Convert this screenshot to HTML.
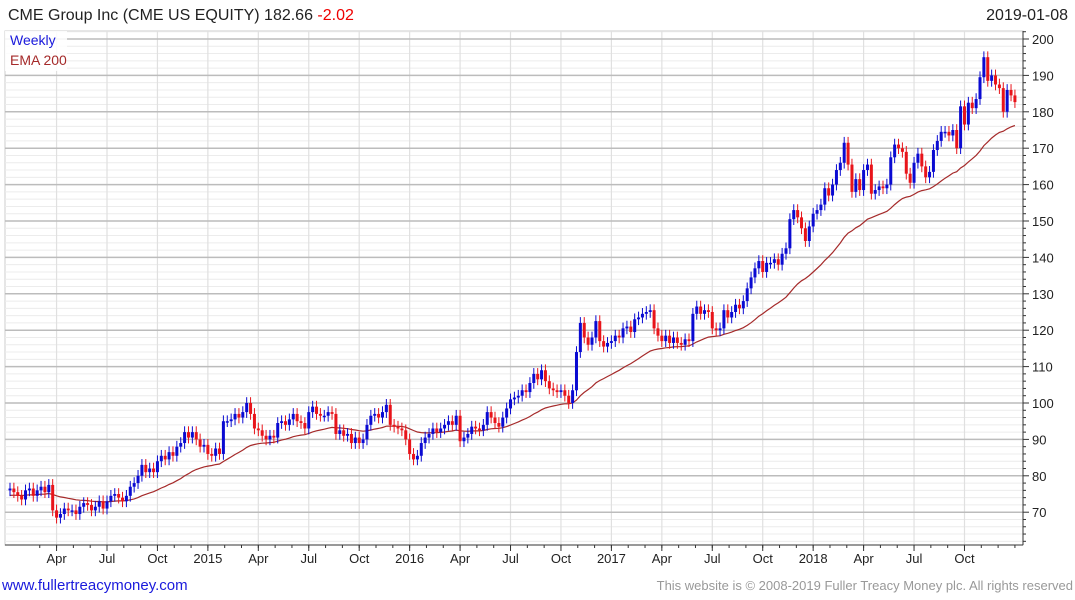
<!DOCTYPE html>
<html><head><meta charset="utf-8"><style>
body{margin:0;background:#fff;font-family:"Liberation Sans",sans-serif;}
#wrap{position:relative;width:1075px;height:600px;overflow:hidden;}
svg text{font-family:"Liberation Sans",sans-serif;}
</style></head><body>
<div id="wrap">
<svg id="chart" width="1075" height="600">
  <text x="8" y="20" font-size="16" fill="#222">CME Group Inc (CME US EQUITY) 182.66 <tspan fill="#e00">-2.02</tspan></text>
  <text x="1068" y="20" font-size="16" fill="#222" text-anchor="end">2019-01-08</text>
  <g id="grid"></g>
  <g id="axes"></g>
  <g id="ema"></g>
  <g id="candles"></g>
  <rect x="5" y="31" width="62" height="40" fill="#fff" opacity="0.85"/>
  <text x="10" y="45" font-size="14" fill="#1a1adc">Weekly</text>
  <text x="10" y="65" font-size="14" fill="#a52a2a">EMA 200</text>
  <text x="2" y="590" font-size="15" fill="#1a1adc">www.fullertreacymoney.com</text>
  <text x="1073" y="590" font-size="13" fill="#999" text-anchor="end">This website is © 2008-2019 Fuller Treacy Money plc. All rights reserved</text>
</svg>
</div>
<script>
const closes=[76.5,75.5,74.5,73.5,76,76.5,74.5,76,77,75.5,
77.5,70.5,68.5,69.5,71,70.5,70.5,69.5,71.5,72.5,
72,70.5,71.5,73,71,73,74.5,75,74,73,
74.5,77,78,80,83,81,82,81,84,85.5,
84.5,86.5,85.5,88,89,92,90.5,92,90,88,
88.5,86,85.5,87.5,86,95,95,95.5,97,96,
97.5,100,97,93,92.5,91,90,91,90.5,94.5,
95,94,95.5,97,95,94.5,93,97.5,99,97,
96.5,96.5,97.5,97,91.5,92.5,91,91.5,89,90.5,
89,90,94,96.5,97,96,97.5,99.5,94,93.5,
93,92.5,90,86,84.5,85.5,89,90.5,91.5,93,
92,93,94,95,94,96.5,89.5,90.5,91.5,93.5,
93,92.5,94,97.5,96,94.5,93.5,96,98.5,101,
101.5,102,103.5,103,105.5,108,106.5,109,106,104,
103.5,103,103.5,102,100,103.5,114,122,118,116,
118,122.5,117,115.5,116.5,117,118.5,118,120.5,121,
119.5,123,123.5,124.5,125,125.5,120.5,118.5,117,118.5,
116.5,118,116.5,116,117.5,117,124.5,126.5,124.5,125.5,
125,120.5,120,120.5,125.5,123.5,125,127,126,128,
131.5,134.5,137,139,136,138.5,138.5,139.5,138,141,
142.5,150.5,153,151,148,144.5,148.5,152,153,154.5,
159,157,160,164,166,171.5,165.5,158,161.5,158.5,
164,165.5,157.5,158.5,159.5,159,160,167.5,171,170,
169,163,160.5,166,168.5,165,162,163.5,169.5,172,
174.5,174.5,173.5,175,170,181.5,176.5,182.5,181,183.5,
189.5,195,188.5,190,187.5,186.5,180,186,184.5,182.66];
const firstOpen=76;
const emaSeed=74.5;
const emaPeriod=34;
const yTicks=[70,80,90,100,110,120,130,140,150,160,170,180,190,200];
const xTickLabels=["Apr","Jul","Oct","2015","Apr","Jul","Oct","2016","Apr","Jul","Oct","2017","Apr","Jul","Oct","2018","Apr","Jul","Oct"];
const xTickWeeks=[12,25,38,51,64,77,90,103,116,129,142,155,168,181,194,207,220,233,246];

const NS="http://www.w3.org/2000/svg";
const L=5,R=1023,T=31,B=545;
function X(i){return 10+i*3.88;}
function Y(p){return 39+(200-p)*3.64;}
function mk(tag,attrs,parent){const e=document.createElementNS(NS,tag);for(const k in attrs)e.setAttribute(k,attrs[k]);parent.appendChild(e);return e;}
const grid=document.getElementById('grid'),axes=document.getElementById('axes');
mk('rect',{x:L,y:T,width:R-L,height:B-T,fill:'#fff',stroke:'#ccc'},grid);
for(let p=62;p<=202;p+=2){
  if(p%10===0)continue;
  const ln=mk('line',{x1:L,x2:R,y1:Y(p),y2:Y(p),stroke:'#ececec','stroke-width':1},grid);
  
  
}
xTickWeeks.forEach((w,k)=>{
  const ln=mk('line',{x1:X(w),x2:X(w),y1:T,y2:B,stroke:'#e0e0e0','stroke-width':1.2},grid);
  
  
  const t=mk('text',{x:X(w),y:563,'font-size':13,fill:'#222','text-anchor':'middle'},axes);
  t.textContent=xTickLabels[k];
  
  
  mk('line',{x1:X(w),x2:X(w),y1:B,y2:B+6,stroke:'#333'},axes);
});
for(let m=-1;m<60;m++){const xx=X(12+m*13/3);if(xx>L&&xx<R)mk('line',{x1:xx,x2:xx,y1:B,y2:B+3,stroke:'#333'},axes);}
yTicks.forEach(p=>{
  const ln=mk('line',{x1:L,x2:R,y1:Y(p),y2:Y(p),stroke:'#bcbcbc','stroke-width':1.5},grid);
  
  
  const t=mk('text',{x:1032,y:Y(p)+5,'font-size':13,fill:'#222'},axes);
  t.textContent=p;
  
  
  mk('line',{x1:R,x2:R+6,y1:Y(p),y2:Y(p),stroke:'#333'},axes);
});
for(let p=62;p<=202;p+=2){if(p%10)mk('line',{x1:R,x2:R+3,y1:Y(p),y2:Y(p),stroke:'#333'},axes);}
mk('line',{x1:R,x2:R,y1:T,y2:B,stroke:'#333'},axes);
mk('line',{x1:L,x2:R,y1:B,y2:B,stroke:'#333'},axes);
// EMA
let e=emaSeed;const a=2/(emaPeriod+1);let pts=[];
closes.forEach((c,i)=>{e=e+a*(c-e);pts.push(X(i).toFixed(1)+','+Y(e).toFixed(1));});
const pl=mk('polyline',{points:pts.join(' '),fill:'none',stroke:'#a52a2a','stroke-width':1.2},document.getElementById('ema'));


// candles
const cg=document.getElementById('candles');
closes.forEach((c,i)=>{
  const o=i===0?firstOpen:closes[i-1];
  const up=c>=o;const col=up?'#0a0ad2':'#e8141a';
  const hi=Math.max(o,c)+1.6,lo=Math.min(o,c)-1.6;
  const g=mk('g',{},cg);
  
  
  mk('line',{x1:X(i),x2:X(i),y1:Y(hi),y2:Y(lo),stroke:col,'stroke-width':1},g);
  const top=Y(Math.max(o,c)),h=Math.max(1.5,Y(Math.min(o,c))-top);
  mk('rect',{x:X(i)-1.5,y:top,width:3,height:h,fill:col},g);
});
</script>
</body></html>
